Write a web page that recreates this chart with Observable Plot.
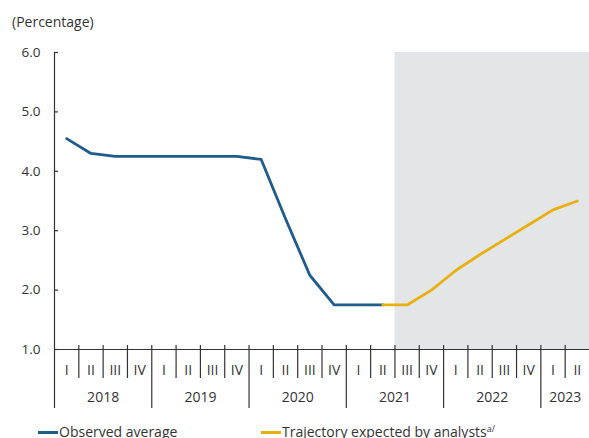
<!DOCTYPE html>
<html>
<head>
<meta charset="utf-8">
<script src="https://cdn.jsdelivr.net/npm/d3@7"></script>
<script src="https://cdn.jsdelivr.net/npm/@observablehq/plot@0.6"></script>
<style>
  html, body { margin: 0; padding: 0; background: #fff; }
  body { width: 589px; height: 438px; overflow: hidden; font-family: "Open Sans", sans-serif; color: #333; }
  .title { height: 40px; font-size: 14px; line-height: 14px; padding-left: 12px; box-sizing: border-box; padding-top: 15px; }
  .legend { position: relative; height: 26px; font-size: 14px; }
  .legend .item { position: absolute; top: 13px; line-height: 14px; white-space: nowrap; }
  .legend .sw { display: inline-block; width: 20px; height: 3px; vertical-align: middle; margin-right: 1px; position: relative; top: -1px; }
  .legend sup { font-size: 9px; vertical-align: 5px; line-height: 0; }
  #chart svg { display: block; }
</style>
</head>
<body>
<div class="title">(Percentage)</div>
<div id="chart"></div>
<div class="legend">
  <div class="item" style="left:38px"><span class="sw" style="background:#1f5c8b"></span>Observed average</div>
  <div class="item" style="left:261px"><span class="sw" style="background:#e8b00f"></span>Trajectory expected by analysts<sup>a/</sup></div>
</div>
<script>
// Quarterly calendar: 2018 Q1 to 2023 Q2
const years = [2018, 2019, 2020, 2021, 2022, 2023];
const quartersPerYear = [4, 4, 4, 4, 4, 2];
const quarterNames = ["I", "II", "III", "IV"];

// Policy rate, observed average (2018 Q1 to 2021 Q2)
const observed = [4.55, 4.30, 4.25, 4.25, 4.25, 4.25, 4.25, 4.25, 4.20, 3.20, 2.25, 1.75, 1.75, 1.75];
// Trajectory expected by analysts (2021 Q2 to 2023 Q2)
const expectedStart = 13;
const expected = [1.75, 1.75, 2.00, 2.33, 2.60, 2.85, 3.10, 3.35, 3.50];
// Forecast period shaded from 2021 Q3
const forecastStart = 14;

const yTicks = [1, 2, 3, 4, 5, 6];

// Build quarter and year tables
const quarterLabels = [];
const yearStarts = [];
const yearCenters = [];
let q = 0;
years.forEach((y, i) => {
  yearStarts.push(q);
  yearCenters.push(q + quartersPerYear[i] / 2);
  for (let k = 0; k < quartersPerYear[i]; k++) quarterLabels.push(quarterNames[k]);
  q += quartersPerYear[i];
});
const nQ = quarterLabels.length;
const yearBoundaries = yearStarts.slice(1);
const quarterBoundaries = d3.range(1, nQ).filter(b => !yearBoundaries.includes(b));
const quarterCenters = d3.range(nQ).map(i => i + 0.5);

const obsData = observed.map((v, i) => ({x: i + 0.5, y: v}));
const expData = expected.map((v, i) => ({x: expectedStart + i + 0.5, y: v}));

const ink = "#333";
const yMin = yTicks[0], yMax = yTicks[yTicks.length - 1];
const chart = Plot.plot({
  width: 589,
  height: 372,
  marginTop: 12,
  marginBottom: 63,
  marginLeft: 54,
  marginRight: 0,
  style: {fontFamily: "'Open Sans', sans-serif", fontSize: "14px", color: ink, background: "transparent"},
  x: {domain: [0, nQ], axis: null},
  y: {domain: [yMin, yMax], axis: null},
  marks: [
    // shaded forecast period
    Plot.rectX([{x1: forecastStart, x2: nQ}], {x1: "x1", x2: "x2", y1: yMin, y2: yMax, fill: "#e4e5e7"}),
    // y axis line, continuing down as the first year divider
    Plot.ruleX([0], {y1: yMax, y2: yMin, stroke: ink, strokeWidth: 1.2, insetBottom: -59}),
    // inward y ticks
    Plot.ruleY(yTicks, {x1: 0, x2: 0, insetRight: -4, stroke: ink, strokeWidth: 1.2}),
    Plot.axisY(yTicks, {tickSize: 0, tickPadding: 14, tickFormat: d => d.toFixed(1), fontSize: 13.5, color: ink, label: null}),
    // x axis baseline and quarter/year dividers
    Plot.ruleY([yMin], {stroke: ink, strokeWidth: 1.2}),
    Plot.ruleX(quarterBoundaries, {y1: yMin, y2: yMin, insetTop: -4, insetBottom: -29, stroke: ink, strokeWidth: 1.2}),
    Plot.ruleX(yearBoundaries, {y1: yMin, y2: yMin, insetTop: -4, insetBottom: -59, stroke: ink, strokeWidth: 1.2}),
    Plot.axisX(quarterCenters, {tickSize: 0, tickPadding: 16, tickFormat: d => quarterLabels[Math.floor(d)], fontSize: 14, color: ink, label: null}),
    Plot.axisX(yearCenters, {tickSize: 0, tickPadding: 43, tickFormat: d => String(years[yearCenters.indexOf(d)]), fontSize: 14, color: ink, label: null}),
    // series
    Plot.line(obsData, {x: "x", y: "y", stroke: "#1f5c8b", strokeWidth: 2.8}),
    Plot.line(expData, {x: "x", y: "y", stroke: "#e8b00f", strokeWidth: 2.8})
  ]
});
document.getElementById("chart").appendChild(chart);
</script>
</body>
</html>
